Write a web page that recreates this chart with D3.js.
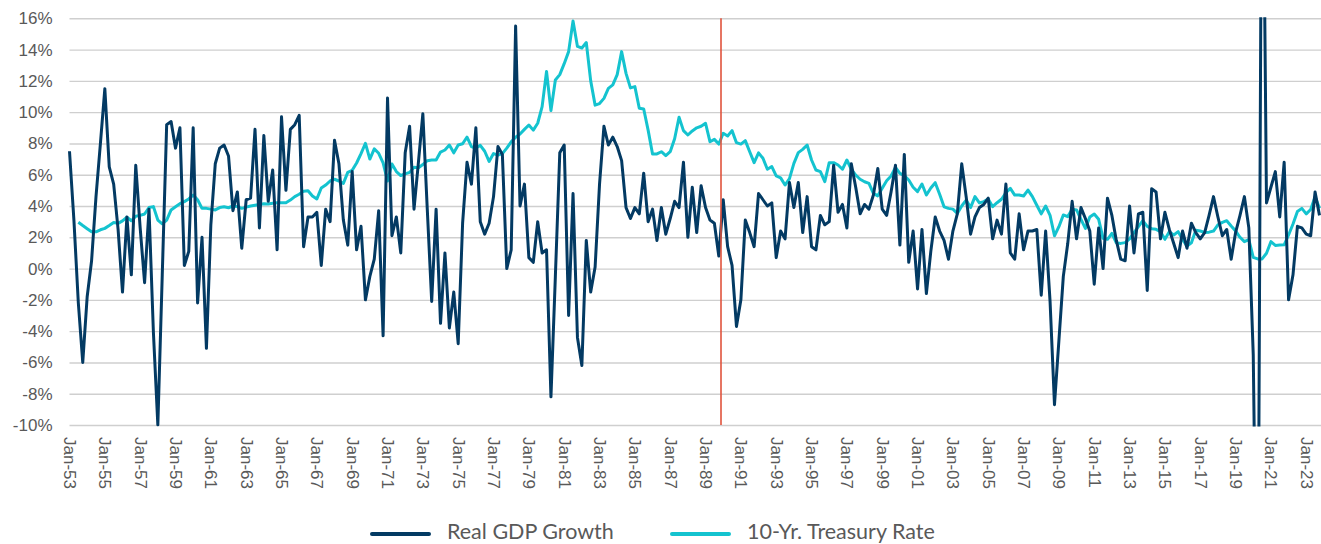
<!DOCTYPE html>
<html lang="en">
<head>
    <meta charset="UTF-8">
    <title>Real GDP Growth vs 10-Yr. Treasury Rate</title>
    <style>
        body {
            margin: 0;
            background: #fff;
            font-family: Lato, "Open Sans", sans-serif;
        }

        .grid line {
            stroke: #cfcfcf;
            stroke-width: 1.4;
        }

        .axis text {
            fill: #595959;
            font-size: 17px;
        }

        .legend text {
            fill: #595959;
            font-size: 21.5px;
        }
    </style>
</head>
<body>

<svg id="chart"></svg>

<script src="https://d3js.org/d3.v7.min.js"></script>
<script>
    // Quarterly series, 1953 Q1 .. 2023 Q4 (annualised real GDP growth, %)
    const gdpGrowth = [
        7.5, 3.1, -2.2, -6.0,   -1.8, 0.5, 4.6, 8.0,    11.5, 6.5, 5.4, 2.5,    -1.5, 3.3, -0.4, 6.6,
        2.6, -0.9, 3.8, -4.1,   -10.0, -0.4, 9.2, 9.4,  7.7, 9.0, 0.2, 1.1,     9.0, -2.2, 2.0, -5.1,
        2.8, 6.7, 7.7, 7.9,     7.2, 3.7, 4.9, 1.3,     4.4, 4.5, 8.9, 2.6,     8.5, 4.3, 6.3, 1.2,
        9.7, 5.0, 8.9, 9.2,     9.8, 1.4, 3.3, 3.3,     3.6, 0.2, 3.8, 3.0,     8.2, 6.7, 3.1, 1.5,
        6.2, 1.2, 2.7, -2.0,    -0.5, 0.6, 3.7, -4.3,   10.9, 2.1, 3.3, 1.0,    7.4, 9.1, 3.8, 6.8,
        9.9, 3.8, -2.1, 3.8,    -3.5, 1.0, -3.8, -1.5,  -4.8, 2.9, 6.8, 5.4,    9.0, 3.0, 2.2, 2.9,
        4.6, 7.8, 7.3, 0.0,     1.2, 15.5, 4.0, 5.4,    0.7, 0.4, 3.0, 1.0,     1.2, -8.2, -0.5, 7.4,
        7.9, -3.0, 4.8, -4.4,   -6.2, 1.8, -1.5, 0.1,   5.4, 9.1, 7.9, 8.4,     7.8, 6.9, 3.9, 3.2,
        3.9, 3.5, 6.1, 3.0,     3.8, 1.8, 3.9, 2.2,     3.2, 4.3, 3.9, 6.8,     2.0, 5.2, 2.3, 5.3,
        3.9, 3.1, 2.9, 0.8,     4.4, 1.4, 0.2, -3.7,    -2.0, 3.1, 2.3, 1.4,    4.8, 4.4, 4.0, 4.2,
        0.7, 2.4, 1.9, 5.5,     3.9, 5.5, 2.3, 4.6,     1.4, 1.2, 3.4, 2.8,     3.0, 6.6, 3.6, 4.1,
        2.6, 6.7, 5.2, 3.5,     4.1, 3.8, 4.7, 6.4,     3.8, 3.4, 4.9, 6.6,     1.5, 7.3, 0.4, 2.4,
        -1.3, 2.5, -1.6, 1.1,   3.3, 2.4, 1.8, 0.6,     2.4, 3.5, 6.7, 4.6,     2.2, 3.3, 3.9, 4.1,
        4.5, 1.9, 3.1, 2.2,     5.4, 1.0, 0.6, 3.5,     1.2, 2.4, 2.4, 2.5,     -1.7, 2.4, -2.1, -8.7,
        -4.6, -0.5, 1.6, 4.3,   1.9, 3.9, 3.2, 2.4,     -1.0, 2.6, 0.0, 4.5,    3.4, 1.8, 0.6, 0.5,
        4.0, 1.0, 3.5, 3.6,     -1.4, 5.1, 4.9, 1.9,    3.6, 2.5, 1.6, 0.7,     2.4, 1.3, 2.9, 2.3,
        1.9, 2.3, 3.4, 4.6,     3.3, 2.1, 2.5, 0.6,     2.3, 3.4, 4.6, 2.6,     -5.5, -28.0, 34.8, 4.2,
        5.2, 6.2, 3.3, 6.8,     -2.0, -0.4, 2.7, 2.6,   2.2, 2.1, 4.9, 3.4
    ];

    // 10-year Treasury rate (%), same quarters; first two quarters have no reading
    const treasuryRate = [
        null, null, 2.96, 2.75,  2.55, 2.35, 2.35, 2.48,  2.57, 2.75, 2.95, 2.89,  3.05, 3.28, 3.06, 3.35,
        3.40, 3.49, 3.90, 3.96,  3.10, 2.85, 3.10, 3.75,  3.95, 4.15, 4.28, 4.45,  4.70, 4.40, 3.85, 3.85,
        3.80, 3.75, 3.90, 3.95,  3.89, 4.00, 3.96, 3.85,  3.93, 4.00, 4.05, 4.10,  4.15, 4.13, 4.17, 4.21,
        4.21, 4.21, 4.38, 4.60,  4.75, 4.95, 4.98, 4.64,  4.45, 5.15, 5.34, 5.60,  5.71, 5.60, 5.45, 6.15,
        6.28, 6.75, 7.35, 8.01,  7.00, 7.65, 7.37, 6.75,  5.60, 6.69, 6.20, 5.95,  6.05, 6.15, 6.47, 6.45,
        6.65, 6.90, 6.94, 6.94,  7.45, 7.58, 7.90, 7.40,  7.90, 7.98, 8.40, 7.80,  7.69, 7.88, 7.50, 6.85,
        7.35, 7.25, 7.35, 7.70,  8.10, 8.40, 8.60, 8.90,  9.18, 8.85, 9.29, 10.35, 12.60, 10.10, 12.06, 12.40,
        13.10, 13.87, 15.83, 14.20, 14.10, 14.45, 12.00, 10.45, 10.55, 10.88, 11.52, 11.74, 12.40, 13.87, 12.48, 11.55,
        11.63, 10.25, 10.20, 8.85, 7.33, 7.33, 7.47, 7.22,  7.47, 8.30, 9.67, 8.82,  8.54, 8.80, 9.00, 9.10,
        9.29, 8.11, 8.26, 7.96,  8.65, 8.48, 8.82, 8.05,  7.96, 8.18, 7.47, 6.77,  7.40, 7.05, 6.35, 6.52,
        5.92, 5.80, 5.34, 5.75,  6.73, 7.41, 7.62, 7.90,  6.94, 6.30, 6.20, 5.56,  6.77, 6.77, 6.62, 6.35,
        6.94, 6.35, 5.98, 5.71,  5.55, 5.45, 4.81, 4.65,  5.13, 5.62, 5.92, 6.47,  6.09, 5.94, 5.66, 5.20,
        4.92, 5.41, 4.70, 5.15,  5.49, 4.75, 3.95, 3.85,  3.80, 3.53, 4.00, 4.38,  3.90, 4.60, 4.20, 4.28,
        4.45, 3.96, 4.21, 4.43,  4.85, 5.13, 4.70, 4.70,  4.64, 5.02, 4.60, 4.05,  3.50, 4.00, 3.40, 2.10,
        2.68, 3.43, 3.32, 3.79,  3.75, 3.15, 2.57, 3.30,  3.49, 3.15, 1.93, 1.87,  2.25, 1.65, 1.61, 1.66,
        1.90, 2.30, 2.68, 3.06,  2.70, 2.55, 2.51, 2.36,  1.87, 2.36, 2.15, 2.36,  1.87, 1.44, 1.65, 2.45,
        2.40, 2.31, 2.33, 2.40,  2.80, 2.95, 3.06, 2.72,  2.41, 2.00, 1.72, 1.85,  0.72, 0.62, 0.62, 0.98,
        1.72, 1.48, 1.50, 1.52,  2.15, 2.85, 3.65, 3.85,  3.50, 3.78, 4.59, 3.85
    ];

    const xTickLabels = [
        "Jan-53", "Jan-55", "Jan-57", "Jan-59", "Jan-61", "Jan-63", "Jan-65", "Jan-67", "Jan-69",
        "Jan-71", "Jan-73", "Jan-75", "Jan-77", "Jan-79", "Jan-81", "Jan-83", "Jan-85", "Jan-87",
        "Jan-89", "Jan-91", "Jan-93", "Jan-95", "Jan-97", "Jan-99", "Jan-01", "Jan-03", "Jan-05",
        "Jan-07", "Jan-09", "Jan-11", "Jan-13", "Jan-15", "Jan-17", "Jan-19", "Jan-21", "Jan-23"
    ];
    const yTicks = [-10, -8, -6, -4, -2, 0, 2, 4, 6, 8, 10, 12, 14, 16];
    const markerQuarter = 147.5;   // between Q4 1989 and Q1 1990

    const seriesNames = ["Real GDP Growth", "10-Yr. Treasury Rate"];
    const seriesColors = ["#033a63", "#14c3cf"];

    // Chart dimensions
    const width = 1321;
    const height = 544;
    const plot = { left: 69.5, right: 1319.5, top: 18.3, bottom: 425 };

    const svg = d3.select("#chart")
        .attr("width", width)
        .attr("height", height);

    const x = d3.scaleLinear()
        .domain([0, gdpGrowth.length - 1])
        .range([plot.left, plot.right]);

    const y = d3.scaleLinear()
        .domain([-10, 16])
        .range([plot.bottom, plot.top]);

    // Gridlines + y labels
    const yAxis = svg.append("g")
        .attr("class", "axis grid")
        .attr("transform", `translate(${plot.left},0)`)
        .call(d3.axisLeft(y)
            .tickValues(yTicks)
            .tickSize(-(width - plot.left))
            .tickPadding(17)
            .tickFormat(d => d + "%"));
    yAxis.select(".domain").remove();

    // x labels, every two years
    const xAxis = svg.append("g")
        .attr("class", "axis")
        .attr("transform", `translate(0,${plot.bottom})`)
        .call(d3.axisBottom(x)
            .tickValues(xTickLabels.map((_, i) => i * 8))
            .tickSize(0)
            .tickFormat((d, i) => xTickLabels[i]));
    xAxis.select(".domain").remove();
    xAxis.selectAll("text")
        .attr("transform", "rotate(90)")
        .attr("x", 12)
        .attr("y", 0)
        .attr("dy", "0.36em")
        .style("text-anchor", "start");

    // clip lines to the plot area
    svg.append("clipPath")
        .attr("id", "plotClip")
        .append("rect")
        .attr("x", plot.left - 5)
        .attr("y", plot.top - 1)
        .attr("width", width - plot.left + 5)
        .attr("height", plot.bottom - plot.top + 2.5);

    const line = d3.line()
        .defined(d => d != null)
        .x((d, i) => x(i))
        .y(d => y(d));

    const lines = svg.append("g").attr("clip-path", "url(#plotClip)");

    lines.append("path")
        .datum(treasuryRate)
        .attr("fill", "none")
        .attr("stroke", seriesColors[1])
        .attr("stroke-width", 3)
        .attr("stroke-linejoin", "round")
        .attr("d", line);

    lines.append("path")
        .datum(gdpGrowth)
        .attr("fill", "none")
        .attr("stroke", seriesColors[0])
        .attr("stroke-width", 3)
        .attr("stroke-linejoin", "round")
        .attr("d", line);

    // red marker line
    svg.append("line")
        .attr("x1", x(markerQuarter))
        .attr("x2", x(markerQuarter))
        .attr("y1", plot.top)
        .attr("y2", plot.bottom)
        .attr("stroke", "#e0533d")
        .attr("stroke-width", 1.6);

    // Legend
    const legend = svg.append("g")
        .attr("class", "legend")
        .attr("transform", "translate(372,534)");

    const item = legend.selectAll("g")
        .data(seriesNames)
        .enter()
        .append("g")
        .attr("transform", (d, i) => `translate(${i * 300},0)`);

    item.append("line")
        .attr("x1", 0)
        .attr("x2", 57)
        .attr("stroke", (d, i) => seriesColors[i])
        .attr("stroke-width", 4)
        .attr("stroke-linecap", "round");

    item.append("text")
        .attr("x", 75)
        .attr("y", 5)
        .text(d => d);
</script>

</body>
</html>
